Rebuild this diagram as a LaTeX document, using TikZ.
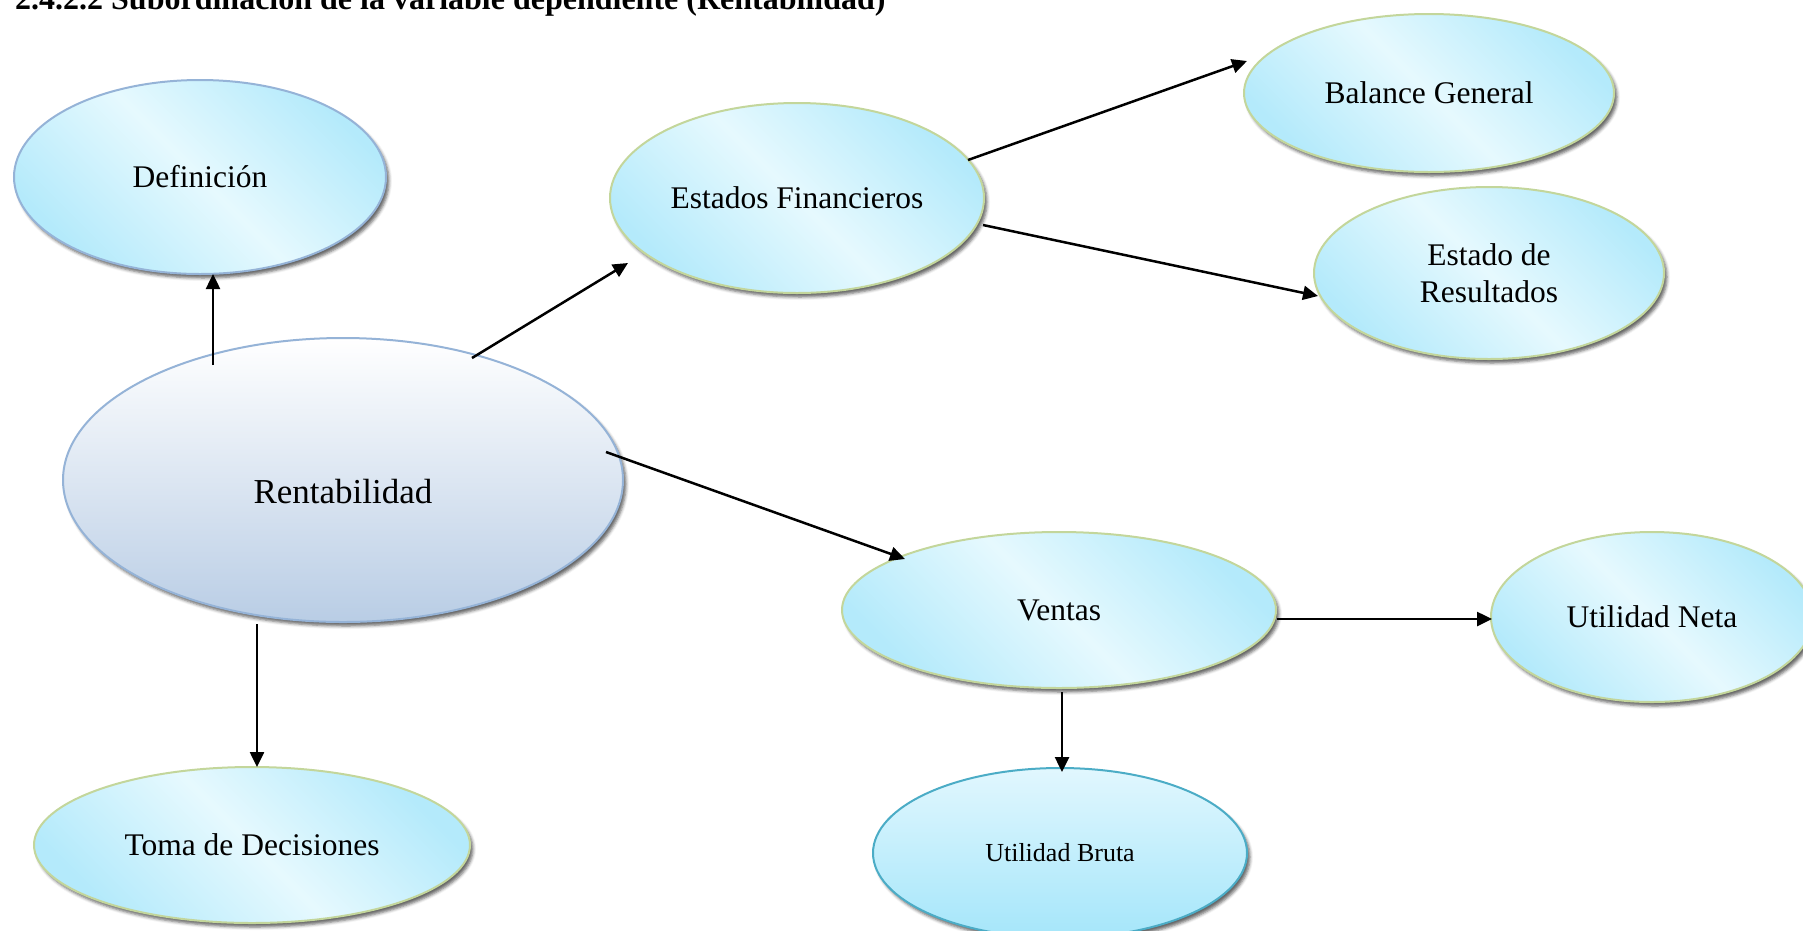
\documentclass[tikz,border=0pt]{standalone}
\usepackage{fontspec}
\setmainfont{Liberation Serif}
\usetikzlibrary{shapes.geometric,arrows.meta,calc,shadows.blur}

\definecolor{skyedge}{RGB}{180,234,251}
\definecolor{skymid}{RGB}{230,249,254}
\definecolor{olivepen}{RGB}{195,214,155}
\definecolor{bluepen}{RGB}{149,179,215}
\definecolor{steelbot}{RGB}{185,205,229}
\definecolor{tealpen}{RGB}{75,172,198}
\definecolor{aquatop}{RGB}{225,247,254}
\definecolor{aquabot}{RGB}{165,230,250}

\tikzset{
  bubble/.style={ellipse, inner sep=0pt, line width=2pt, align=center,
    blur shadow={shadow xshift=3pt, shadow yshift=-4pt,
                 shadow blur radius=3pt, shadow opacity=60},
    font=\fontsize{31.5}{37}\selectfont},
  sky/.style={bubble, draw=olivepen, top color=skyedge, bottom color=skyedge,
    middle color=skymid, shading angle=-45},
  link/.style={line width=2.5pt, -{Triangle[length=15pt,width=14pt]}},
}

\begin{document}
\begin{tikzpicture}[x=1pt, y=-1pt]
\useasboundingbox (0,0) rectangle (1803,930);
\clip (0,0) rectangle (1803,930);

% heading
\node[anchor=base west, inner sep=0pt, font=\bfseries\fontsize{32}{37}\selectfont]
  (title) at (15,9) {2.4.2.2 Subordinación de la variable dependiente (Rentabilidad)};

% concept bubbles
\node[sky, draw=bluepen, minimum width=372pt, minimum height=194pt] (def) at (200,177) {Definición};
\node[bubble, draw=bluepen, top color=white, bottom color=steelbot,
      minimum width=560pt, minimum height=284pt, text height=70pt, text depth=24pt,
      font=\fontsize{35}{40}\selectfont] (rent) at (343,480) {Rentabilidad};
\node[sky, minimum width=374pt, minimum height=190pt] (est) at (797,198) {Estados Financieros};
\node[sky, minimum width=370pt, minimum height=158pt] (bal) at (1429,93) {Balance General};
\node[sky, minimum width=350pt, minimum height=172pt] (res) at (1489,273) {Estado de\\Resultados};
\node[sky, minimum width=434pt, minimum height=156pt] (ven) at (1059,610) {Ventas};
\node[sky, minimum width=322pt, minimum height=170pt] (neta) at (1652,617) {Utilidad Neta};
\node[sky, minimum width=436pt, minimum height=156pt] (toma) at (252,845) {Toma de Decisiones};
\node[bubble, draw=tealpen, top color=aquatop, bottom color=aquabot,
      minimum width=374pt, minimum height=170pt,
      font=\fontsize{26}{31}\selectfont] (bruta) at (1060,853) {Utilidad Bruta};

% connectors
\draw[link] ($(rent.center)+(-130,-115)$) -- ($(def.center)+(13,97)$);
\draw[link] ($(rent.center)+(-86,144)$) -- ($(toma.center)+(5,-78)$);
\draw[link] ($(rent.center)+(129,-122)$) -- ($(est.center)+(-169,65)$);
\draw[link] ($(rent.center)+(263,-28)$) -- ($(ven.center)+(-154,-51)$);
\draw[link] ($(est.center)+(171,-38)$) -- ($(bal.center)+(-182,-32)$);
\draw[link] ($(est.center)+(186,27)$) -- ($(res.center)+(-171,23)$);
\draw[link] ($(ven.center)+(218,9)$) -- ($(neta.center)+(-160,2)$);
\draw[link] ($(ven.center)+(3,82)$) -- ($(bruta.center)+(2,-81)$);
\end{tikzpicture}
\end{document}
